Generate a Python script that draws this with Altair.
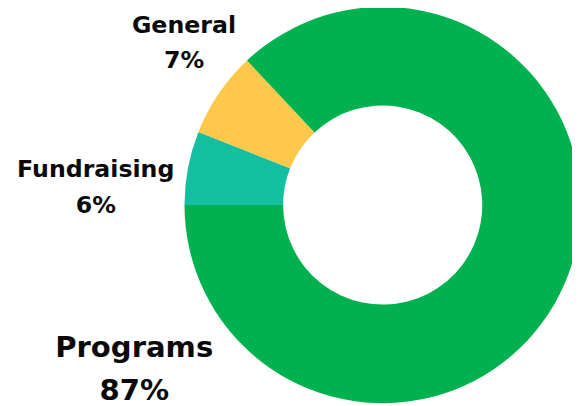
import altair as alt
import pandas as pd
import math

categories = ["Fundraising", "General", "Programs"]
values = [6, 7, 87]
colors = ["#12BFA0", "#FEC84A", "#00B14F"]

df = pd.DataFrame({"category": categories, "value": values, "order": [0, 1, 2]})

base = alt.Chart(df)

arc = base.mark_arc(radius=201, radius2=101, x=380, y=197).encode(
    theta=alt.Theta("value:Q", stack=True,
                    scale=alt.Scale(range=[1.5 * math.pi, 3.5 * math.pi])),
    order=alt.Order("order:Q"),
    color=alt.Color("category:N", scale=alt.Scale(domain=categories, range=colors), legend=None),
)

label_expr = "datum.category + '\\n' + datum.value + '%'"

def label(cat, x, y, size, lh):
    return base.transform_filter(alt.datum.category == cat).transform_calculate(
        lbl=label_expr
    ).mark_text(
        x=x, y=y, font="DejaVu Sans", fontSize=size, fontWeight="bold", color="#0a0a0a",
        align="center", baseline="alphabetic", lineBreak="\n", lineHeight=lh,
    ).encode(text="lbl:N")

chart = alt.layer(
    arc,
    label("General", 178.5, 23, 24, 35),
    label("Fundraising", 89, 169, 24, 36),
    label("Programs", 128, 351, 29.5, 44),
).properties(
    width=572, height=398, padding=0, autosize=alt.AutoSizeParams(type="none")
).configure_view(stroke=None)

chart.save("out.html", embed_options={"renderer": "svg", "actions": False})
